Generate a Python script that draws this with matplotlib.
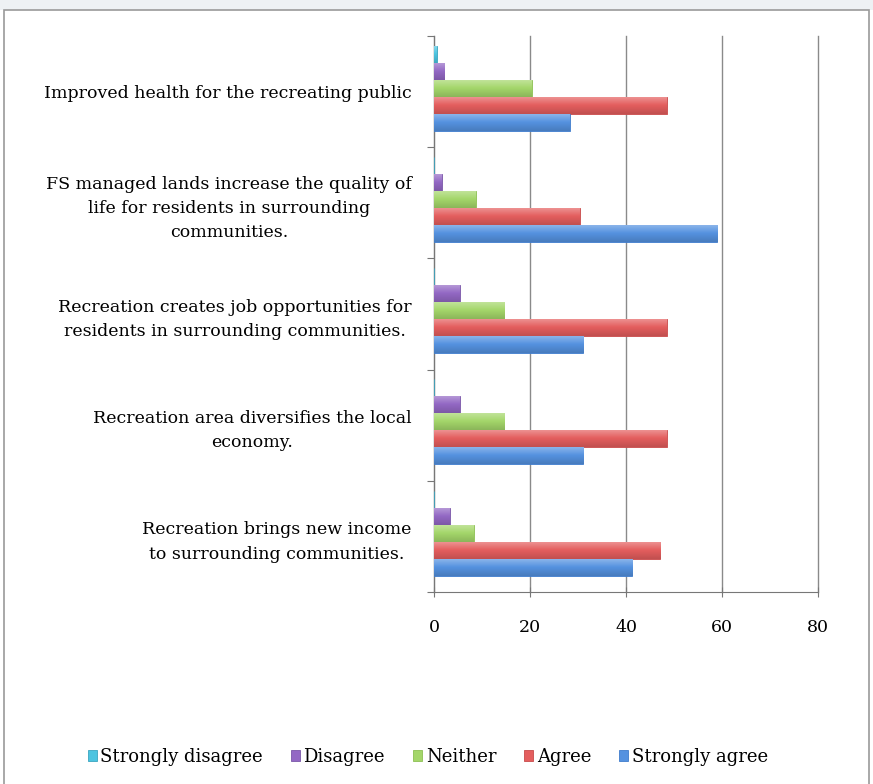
import matplotlib
matplotlib.use("Agg")
import matplotlib.pyplot as plt
import numpy as np
from matplotlib.patches import Rectangle
from matplotlib.colors import LinearSegmentedColormap, to_rgb

categories = [
    "Recreation brings new income\nto surrounding communities.",
    "Recreation area diversifies the local\neconomy.",
    "Recreation creates job opportunities for\nresidents in surrounding communities.",
    "FS managed lands increase the quality of\nlife for residents in surrounding\ncommunities.",
    "Improved health for the recreating public",
]
series_names = ["Strongly disagree", "Disagree", "Neither", "Agree", "Strongly agree"]
strongly_disagree = [0.0, 0.0, 0.0, 0.0, 0.6]
disagree = [3.3, 5.4, 5.4, 1.6, 2.1]
neither = [8.3, 14.6, 14.6, 8.7, 20.4]
agree = [47.1, 48.5, 48.5, 30.4, 48.5]
strongly_agree = [41.3, 31.1, 31.1, 59.0, 28.3]
x_ticks = [0, 20, 40, 60, 80]

colors = ["#4cc4e0", "#9368c4", "#a4d66a", "#e45e5e", "#5592e0"]
edge = ["#3aa5c0", "#7a56a8", "#8cbf52", "#c84a4a", "#3f7ccc"]

plt.rcParams["font.family"] = ["DejaVu Serif"]

fig = plt.figure(figsize=(8.73, 7.84), dpi=100)
fig.patch.set_facecolor("white")
# window-like frame
fig.patches.append(Rectangle((0, 1 - 10 / 784), 1, 10 / 784, transform=fig.transFigure,
                             facecolor="#eef1f4", edgecolor="none", zorder=-2))
fig.patches.append(Rectangle((4 / 873, -0.01), 865 / 873, 1 - 10 / 784 + 0.01, transform=fig.transFigure,
                             facecolor="white", edgecolor="#9a9a9a", linewidth=1.2, zorder=-1))

ax = fig.add_axes([434 / 873, 1 - 592 / 784, (818 - 434) / 873, (592 - 36) / 784])
ax.set_facecolor("none")


def grad_cmap(c):
    r = np.array(to_rgb(c))
    light = r + (1 - r) * 0.35
    dark = r * 0.85
    return LinearSegmentedColormap.from_list("g", [dark, r, light])


data = [strongly_disagree, disagree, neither, agree, strongly_agree]
h = 0.153
y = np.arange(len(categories))
grad = np.linspace(0, 1, 32).reshape(-1, 1)
for i, (vals, name) in enumerate(zip(data, series_names)):
    offs = (2 - i) * h + 0.03
    bars = ax.barh(y + offs, vals, height=h, color=colors[i], edgecolor=edge[i], linewidth=0.6,
                   label=name, zorder=3)
    cm = grad_cmap(colors[i])
    for b in bars:
        if b.get_width() <= 0:
            continue
        x0, y0 = b.get_x(), b.get_y()
        im = ax.imshow(grad, cmap=cm, aspect="auto", origin="lower",
                       extent=(x0, x0 + b.get_width(), y0, y0 + b.get_height()), zorder=3.5)
        im.set_clip_path(b)

ax.set_xlim(0, 80)
ax.set_ylim(-0.5, len(categories) - 0.5)
ax.set_xticks(x_ticks)
ax.set_xticklabels([str(t) for t in x_ticks], fontsize=12.5)
ax.set_yticks(np.arange(len(categories) + 1) - 0.5, minor=False)
ax.set_yticklabels([])
ax.set_yticks(y, minor=True)
ax.set_yticklabels(categories, minor=True, fontsize=12.5, ha="right", multialignment="center",
                   linespacing=1.55)
ax.tick_params(axis="y", which="minor", length=0, pad=16)
ax.tick_params(axis="y", which="major", length=5, direction="out", color="#777777")
ax.tick_params(axis="x", length=7, direction="inout", color="#777777", pad=16)

ax.grid(axis="x", color="#8a8a8a", linewidth=1.0, zorder=0)
for gl in ax.get_xgridlines():
    gl.set_clip_on(False)
for s in ["top", "right"]:
    ax.spines[s].set_visible(False)
ax.spines["left"].set_color("#777777")
ax.spines["bottom"].set_color("#777777")

handles, labels = ax.get_legend_handles_labels()
leg = fig.legend(handles, labels, loc="center", bbox_to_anchor=(0.49, 1 - 757 / 784), ncol=5,
                 frameon=False, fontsize=13, handlelength=0.5, handleheight=0.5,
                 handletextpad=0.2, columnspacing=1.55)

fig.savefig("out.png", dpi=100)
